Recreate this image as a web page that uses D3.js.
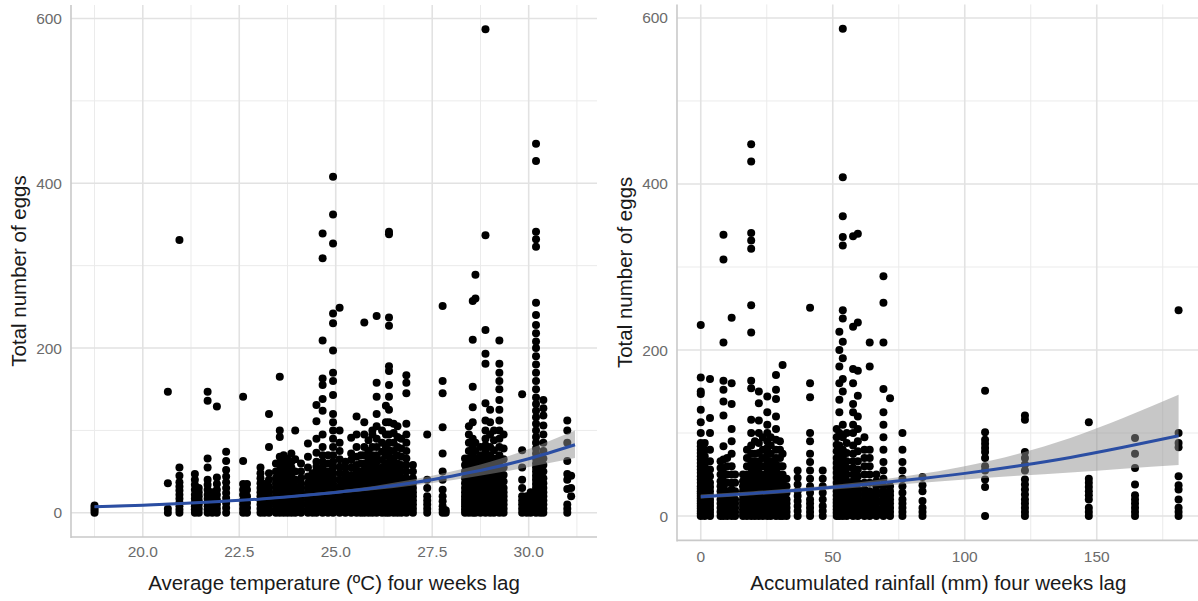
<!DOCTYPE html>
<html>
<head>
<meta charset="utf-8">
<script src="https://cdn.jsdelivr.net/npm/d3@7/dist/d3.min.js"></script>
<style>
  html, body { margin: 0; padding: 0; background: #fff; }
  svg { display: block; font-family: "Liberation Sans", Arial, sans-serif; }
</style>
</head>
<body>
<svg id="chart" width="1198" height="601"></svg>
<script>
// ---------- DATA ----------
// Left panel: average temperature (°C) four weeks lag, columns of observed egg counts
const tempX = [18.75, 20.65, 20.95, 21.35, 21.45, 21.68, 21.8, 21.92, 22.16, 22.6, 22.7, 23.05, 23.15, 23.27, 23.45, 23.55, 23.65, 23.75, 23.85, 23.95, 24.1, 24.28, 24.4, 24.5, 24.66, 24.8, 24.93, 25.1, 25.25, 25.4, 25.54, 25.65, 25.74, 25.85, 25.95, 26.06, 26.2, 26.3, 26.38, 26.5, 26.6, 26.7, 26.83, 27.0, 27.37, 27.77, 27.85, 28.35, 28.45, 28.55, 28.62, 28.75, 28.88, 29.0, 29.1, 29.24, 29.35, 29.83, 29.95, 30.05, 30.19, 30.3, 30.38, 31.0, 31.1];
const tempEggs = [
  [0,3,6,9],
  [0,5,36,147],
  [0,4,8,12,17,22,27,32,37,45,55,331],
  [0,4,8,12,17,22,28,34,40,47],
  [0,5,10,15,20,25,30],
  [0,4,8,12,17,22,28,34,40,55,66,136,147],
  [0,5,10,15,20,25],
  [0,5,10,16,22,28,35,43,129],
  [0,6,12,18,24,30,37,44,52,63,74],
  [0,5,10,15,22,28,35,63,141],
  [0,6,12,20,28,35],
  [0,5,10,15,20,25,30,36,42,48,55],
  [0,5,10,16,22,28,35],
  [0,5,10,15,20,26,32,40,48,80,120],
  [0,4,8,12,16,20,25,30,36,42,50,60],
  [0,5,10,15,20,26,32,38,45,52,60,68,92,100,165],
  [0,4,8,12,17,22,27,33,40,47,55,63,70],
  [0,5,10,15,20,25,30,36,42,50,58,66],
  [0,4,8,13,18,23,28,34,40,47,55,62,72],
  [0,5,10,15,20,26,32,40,50,65,100],
  [0,5,10,15,20,25,30,35,42,50,60],
  [0,4,8,12,16,20,25,30,36,44,55,68,84],
  [0,5,10,15,20,26,32,40,48],
  [0,4,8,12,16,20,24,28,33,38,44,50,56,62,73,90,111,131],
  [0,5,10,15,20,25,30,36,42,48,55,62,70,80,95,124,138,155,163,209,309,339],
  [0,5,10,15,20,25,30,35,42,50,60,70],
  [0,4,8,12,16,20,25,30,36,42,48,55,62,70,80,90,100,110,120,143,160,170,197,230,242,327,362,408],
  [0,5,10,15,20,26,32,40,48,56,65,75,85,100,249],
  [0,5,10,15,20,25,30,36,42,48,55,62],
  [0,5,10,15,20,25,30,38,46,55,64,72,91],
  [0,4,8,12,16,20,25,30,36,42,50,58,68,80,95,117],
  [0,5,10,15,20,25,30,35,42,50,60,70],
  [0,4,8,12,16,20,25,30,36,44,52,60,70,80,95,110,231],
  [0,5,10,15,20,25,30,36,42,50,58,66,75,88],
  [0,4,8,12,16,20,25,30,36,42,48,55,62,70,80,95,100],
  [0,5,10,15,20,25,30,36,42,48,55,62,70,80,90,105,120,141,158,239],
  [0,4,8,12,16,20,25,30,36,42,48,55,64,74,85,100],
  [0,5,10,15,20,26,32,38,45,52,60,70,80,95,110,130],
  [0,4,8,12,16,20,25,30,35,40,46,52,60,68,76,85,95,110,125,141,155,172,178,227,237,338,341],
  [0,5,10,15,20,25,30,36,42,50,58,66,75,85,97,108],
  [0,4,8,12,16,20,26,32,38,45,52,60,70,80,92,105],
  [0,5,10,15,20,25,30,36,42,50,58,68,78,90],
  [0,4,8,12,16,20,25,30,36,42,50,58,66,75,85,95,108,145,158,167],
  [0,5,10,15,20,25,30,36,42,50,58],
  [0,5,10,15,20,30,40,95],
  [0,4,8,14,20,28,40,50,72,104,145,160,251],
  [0,3],
  [0,4,8,12,16,20,25,30,36,42,50,58,66],
  [0,5,10,15,20,25,30,36,42,50,58,66,75,85,95,105],
  [0,4,8,12,16,20,26,32,38,45,52,60,70,80,90,110,128,153,210,257],
  [0,5,10,15,20,25,30,36,42,50,58,66,75,85,260,289],
  [0,4,8,12,16,20,25,30,36,42,48,55,62,70,80],
  [0,5,10,15,20,25,30,35,40,46,52,58,66,74,82,90,100,112,133,181,193,222,337,587],
  [0,4,8,12,16,20,25,30,36,42,48,55,62,70,80,95,110,125],
  [0,5,10,15,20,25,30,36,42,50,58,66,76,88,100],
  [0,4,8,12,16,20,25,30,36,42,48,55,62,70,80,90,100,112,125,137,150,160,170,181,209],
  [0,5,10,15,20,25,30,38,46,55,65,78,95],
  [0,5,10,15,20,30,40,55,76,144],
  [0,4,8,12,16,20],
  [0,5,10,15,20,25],
  [0,4,8,12,16,20,25,30,35,40,45,50,55,60,66,72,78,85,92,100,108,116,124,132,140,150,160,170,180,190,200,208,218,228,240,255,323,332,341,427,448],
  [0,5,10,15,20,25,30,36,42,50,58,66],
  [0,5,10,15,20,25,30,36,42,50,58,66,75,85,95,106,118,127,137],
  [0,5,10,29,40,47,63,85,100,112],
  [20,30,45]
];
// Left panel fitted curve and confidence band
const tempFitX  = [18.75, 20, 21, 22, 23, 24, 25, 26, 27, 28, 29, 30, 31.2];
const tempFitY  = [7.3, 9.3, 11.3, 13.7, 16.6, 20.4, 24.8, 30.0, 36.6, 44.5, 54.0, 65.6, 82.6];
const tempFitLo = [6.0, 8.0, 10.1, 12.5, 15.4, 19.0, 23.0, 27.6, 33.2, 39.6, 47.0, 55.5, 66.5];
const tempFitHi = [8.8, 10.8, 12.7, 15.0, 17.9, 21.9, 26.7, 32.6, 40.3, 50.0, 62.0, 77.5, 100];
const tempTicks = [20.0, 22.5, 25.0, 27.5, 30.0];
const tempMinor = [18.75, 21.25, 23.75, 26.25, 28.75, 31.25];

// Right panel: accumulated rainfall (mm) four weeks lag
const rainX = [0, 1.5, 3.5, 7.5, 8.6, 10, 11.7, 13, 16, 17.5, 19.1, 20.5, 22, 23.5, 25.2, 26.5, 28.5, 30, 31, 32.5, 36.7, 41.4, 46.2, 51.5, 52.5, 53.8, 55.3, 57.7, 59.5, 62, 64, 66.5, 69.2, 71.7, 76.4, 84, 107.7, 122.8, 147, 164.5, 181];
const rainEggs = [
  [0,3,6,9,12,15,18,21,24,27,30,33,36,40,44,48,52,56,60,64,68,72,76,80,84,88,100,113,128,147,150,167,230],
  [0,4,8,12,16,20,24,28,32,36,40,45,50,55,60,66,72,80,88],
  [0,4,8,12,16,20,25,30,35,40,48,56,66,80,100,118,165],
  [0,5,10,15,20,25,30,36,42,50,58,66],
  [0,4,8,12,16,20,25,30,36,42,50,58,68,84,121,138,152,163,209,309,339],
  [0,5,10,15,20,25,30,40,50,60,70],
  [0,4,8,12,16,20,26,32,40,50,60,75,90,105,135,160,239],
  [0,5,10,15,20,30,40,50],
  [0,4,8,12,16,20,25,30,36,42,50],
  [0,5,10,15,20,25,30,36,42,50,60,70,80],
  [0,4,8,12,16,20,25,30,36,42,50,58,66,75,85,100,116,154,163,221,254,322,332,341,427,448],
  [0,5,10,15,20,25,30,36,42,50,58,66,75,90],
  [0,4,8,12,16,20,25,30,36,42,50,58,66,76,88,100,115,136,150],
  [0,5,10,15,20,25,30,36,42,50,60,70,80,95],
  [0,4,8,12,16,20,25,30,35,40,46,52,58,66,74,82,90,100,110,125,144],
  [0,5,10,15,20,25,30,36,42,50,58,66,75,85,95],
  [0,4,8,12,16,20,25,30,36,42,48,55,62,70,80,92,105,120,141,152,170],
  [0,5,10,15,20,25,30,36,42,50,60,70,80,90],
  [0,4,8,12,16,20,26,32,40,50,60,75,182],
  [0,5,10,15,20,28,36,45],
  [0,6,12,18,24,30,38,46,55],
  [0,5,10,15,20,28,36,45,55,65,75,90,100,143,160,251],
  [0,6,12,20,28,36,45,55],
  [0,4,8,12,16,20,25,30,35,40,46,52,58,64,70,78,86,95,105],
  [0,5,10,15,20,25,30,36,42,50,58,66,75,85,100,125,140,160,180,200,222],
  [0,4,8,12,16,20,25,30,36,42,48,55,62,70,80,95,110,150,165,190,210,238,248,326,336,361,408,587],
  [0,5,10,15,20,25,30,36,42,50,58,66,76,88,100],
  [0,4,8,12,16,20,25,30,36,42,50,58,66,75,85,100,110,125,135,160,177,228,337],
  [0,5,10,15,20,26,32,40,48,56,66,78,90,105,120,145,175,233,340],
  [0,4,8,12,16,20,26,32,40,50,60,70,80,95],
  [0,5,10,15,20,25,30,40,50,60,70,80,180,209],
  [0,5,10,15,20,25,30,36,42,50],
  [0,4,8,12,16,20,25,30,36,45,55,65,80,95,110,125,153,209,257,289],
  [0,5,10,15,20,25,30,36,142],
  [0,5,10,15,20,28,36,45,55,65,80,100],
  [0,5,10,18,30,37,47],
  [0,35,44,55,60,70,77,82,87,92,101,151],
  [0,5,10,15,20,26,32,38,44,55,62,70,77,116,121],
  [0,5,10,20,25,30,35,40,45,113],
  [0,5,10,15,20,25,38,58,75,94],
  [0,5,10,20,32,37,48,83,88,100,248]
];
// Right panel fitted curve and confidence band
const rainFitX  = [0, 20, 40, 60, 80, 100, 120, 140, 160, 181];
const rainFitY  = [23.3, 27.3, 32.0, 37.5, 43.9, 51.4, 60.3, 70.6, 82.8, 96.8];
const rainFitLo = [21.0, 25.0, 29.6, 34.5, 39.3, 44.0, 48.5, 52.5, 57.0, 61.5];
const rainFitHi = [25.8, 29.8, 34.6, 40.8, 49.0, 60.0, 74.8, 94.0, 118, 146];
const rainTicks = [0, 50, 100, 150];
const rainMinor = [25, 75, 125, 175];

const yTicks = [0, 200, 400, 600];
const yMinor = [100, 300, 500];
const yTitle = "Total number of eggs";

// ---------- DRAWING ----------
const svg = d3.select("#chart");

function panel(cfg) {
  const g = svg.append("g");
  const x = d3.scaleLinear().domain(cfg.xDomain).range(cfg.xRange);
  const y = d3.scaleLinear().domain([-29.35, 616.35]).range(cfg.yRange);
  const [x0, x1] = cfg.xRange;
  const [yb, yt] = cfg.yRange;

  // minor gridlines
  g.selectAll(".gxm").data(cfg.minor).join("line")
    .attr("x1", d => x(d)).attr("x2", d => x(d)).attr("y1", yt).attr("y2", yb)
    .attr("stroke", "#ebebeb").attr("stroke-width", 1);
  g.selectAll(".gym").data(yMinor).join("line")
    .attr("x1", x0).attr("x2", x1).attr("y1", d => y(d)).attr("y2", d => y(d))
    .attr("stroke", "#ebebeb").attr("stroke-width", 1);
  // major gridlines
  g.selectAll(".gx").data(cfg.ticks).join("line")
    .attr("x1", d => x(d)).attr("x2", d => x(d)).attr("y1", yt).attr("y2", yb)
    .attr("stroke", "#e2e2e2").attr("stroke-width", 1.6);
  g.selectAll(".gy").data(yTicks).join("line")
    .attr("x1", x0).attr("x2", x1).attr("y1", d => y(d)).attr("y2", d => y(d))
    .attr("stroke", "#e2e2e2").attr("stroke-width", 1.6);

  // axis lines
  g.append("line").attr("x1", x0).attr("x2", x0).attr("y1", yt).attr("y2", yb + 1)
    .attr("stroke", "#c9c9c9").attr("stroke-width", 1.6);
  g.append("line").attr("x1", x0).attr("x2", x1).attr("y1", yb).attr("y2", yb)
    .attr("stroke", "#c9c9c9").attr("stroke-width", 1.6);

  // points
  const pts = [];
  cfg.xs.forEach((xv, i) => cfg.ys[i].forEach(v => pts.push([xv, v])));
  g.selectAll(".pt").data(pts).join("circle")
    .attr("cx", d => x(d[0])).attr("cy", d => y(d[1])).attr("r", 4)
    .attr("fill", "#000");

  // ribbon
  const band = cfg.fitX.map((xv, i) => ({x: xv, lo: cfg.fitLo[i], hi: cfg.fitHi[i]}));
  g.append("path").datum(band)
    .attr("d", d3.area().x(d => x(d.x)).y0(d => y(d.lo)).y1(d => y(d.hi)).curve(d3.curveMonotoneX))
    .attr("fill", "#8f8f8f").attr("fill-opacity", 0.5);

  // fitted line
  const fit = cfg.fitX.map((xv, i) => ({x: xv, y: cfg.fitY[i]}));
  g.append("path").datum(fit)
    .attr("d", d3.line().x(d => x(d.x)).y(d => y(d.y)).curve(d3.curveMonotoneX))
    .attr("fill", "none").attr("stroke", "#2b4ea3").attr("stroke-width", 3);

  // tick labels
  g.selectAll(".xt").data(cfg.ticks).join("text")
    .attr("x", d => x(d)).attr("y", cfg.xLabelY)
    .attr("text-anchor", "middle").attr("font-size", 15.5).attr("fill", "#6b6b6b")
    .text(d => cfg.fmt(d));
  g.selectAll(".yt").data(yTicks).join("text")
    .attr("x", x0 - 9).attr("y", d => y(d) + 5.5)
    .attr("text-anchor", "end").attr("font-size", 15.5).attr("fill", "#6b6b6b")
    .text(d => d);

  // axis titles
  g.append("text").attr("x", (x0 + x1) / 2).attr("y", 590)
    .attr("text-anchor", "middle").attr("font-size", 20.5).attr("fill", "#1a1a1a")
    .text(cfg.xTitle);
  g.append("text")
    .attr("transform", `translate(${cfg.yTitleX},${(yb + yt) / 2}) rotate(-90)`)
    .attr("text-anchor", "middle").attr("font-size", 20.5).attr("fill", "#1a1a1a")
    .text(yTitle);
}

panel({
  xs: tempX, ys: tempEggs,
  fitX: tempFitX, fitY: tempFitY, fitLo: tempFitLo, fitHi: tempFitHi,
  ticks: tempTicks, minor: tempMinor,
  xDomain: [18.14, 31.77], xRange: [71, 597], yRange: [537, 5],
  xLabelY: 557, yTitleX: 26,
  fmt: d3.format(".1f"),
  xTitle: "Average temperature (ºC) four weeks lag"
});

panel({
  xs: rainX, ys: rainEggs,
  fitX: rainFitX, fitY: rainFitY, fitLo: rainFitLo, fitHi: rainFitHi,
  ticks: rainTicks, minor: rainMinor,
  xDomain: [-9, 189], xRange: [677, 1199.7], yRange: [540.4, 4.4],
  xLabelY: 562, yTitleX: 632,
  fmt: d3.format("d"),
  xTitle: "Accumulated rainfall (mm) four weeks lag"
});
</script>
</body>
</html>
